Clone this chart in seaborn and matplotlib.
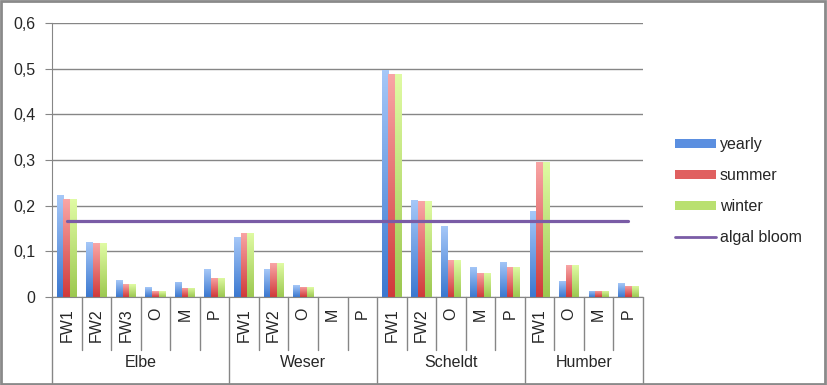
import numpy as np
import pandas as pd
import matplotlib
matplotlib.use("Agg")
import matplotlib.pyplot as plt
import seaborn as sns
from matplotlib.colors import LinearSegmentedColormap
from matplotlib.patches import Patch, Rectangle
from matplotlib.lines import Line2D
from matplotlib.transforms import blended_transform_factory

# Data
rivers = ['Elbe', 'Weser', 'Scheldt', 'Humber']
stations = [['FW1', 'FW2', 'FW3', 'O', 'M', 'P'],
            ['FW1', 'FW2', 'O', 'M', 'P'],
            ['FW1', 'FW2', 'O', 'M', 'P'],
            ['FW1', 'O', 'M', 'P']]
yearly = [0.223, 0.120, 0.037, 0.021, 0.033, 0.061,
          0.131, 0.061, 0.026, np.nan, np.nan,
          0.498, 0.212, 0.155, 0.066, 0.077,
          0.188, 0.036, 0.014, 0.030]
summer = [0.214, 0.118, 0.028, 0.013, 0.020, 0.042,
          0.141, 0.074, 0.022, np.nan, np.nan,
          0.489, 0.210, 0.081, 0.053, 0.066,
          0.296, 0.069, 0.014, 0.025]
winter = [0.214, 0.118, 0.028, 0.013, 0.020, 0.042,
          0.141, 0.074, 0.021, np.nan, np.nan,
          0.489, 0.210, 0.081, 0.053, 0.066,
          0.296, 0.069, 0.014, 0.025]
algal_bloom = 0.167
seasons = ['yearly', 'summer', 'winter']
ytick_vals = [0, 0.1, 0.2, 0.3, 0.4, 0.5, 0.6]
ytick_labels = ['0', '0,1', '0,2', '0,3', '0,4', '0,5', '0,6']

# long table, one row per bar
cats = [f'{r} {s}' for r, sts in zip(rivers, stations) for s in sts]
short = [s for sts in stations for s in sts]
df = pd.DataFrame({
    'cat': cats * 3,
    'season': np.repeat(seasons, len(cats)),
    'value': yearly + summer + winter,
})

sns.set_style('white')
plt.rcParams['font.family'] = ['Liberation Sans', 'DejaVu Sans']
FS = 11.5

fig = plt.figure(figsize=(8.27, 3.85), dpi=100)
ax = fig.add_axes([0.0629, 0.2286, 0.7146, 0.7117])

colors = {'yearly': '#5b8fe0', 'summer': '#e06060', 'winter': '#b9e070'}
grads = {
    'yearly': LinearSegmentedColormap.from_list('b', ['#3b78d0', '#a6c8f8']),
    'summer': LinearSegmentedColormap.from_list('r', ['#d03a3a', '#f9a6a6']),
    'winter': LinearSegmentedColormap.from_list('g', ['#9cc850', '#e0fba4']),
}

sns.barplot(data=df, x='cat', y='value', hue='season', order=cats,
            hue_order=seasons, palette=colors, width=0.68, ax=ax,
            legend=False, errorbar=None, saturation=1)

# gradient fill, clipped to each bar
grad = np.linspace(0, 1, 128).reshape(-1, 1)
for season, bars in zip(seasons, ax.containers):
    for bar in bars:
        h = bar.get_height()
        if not np.isfinite(h) or h <= 0:
            continue
        x0, w = bar.get_x(), bar.get_width()
        im = ax.imshow(grad, extent=[x0, x0 + w, 0, h], origin='lower',
                       cmap=grads[season], aspect='auto', zorder=2)
        im.set_clip_path(bar)
        bar.set_facecolor('none')
        bar.set_edgecolor('none')

# threshold line from first to last category
sns.lineplot(x=np.arange(len(cats)), y=[algal_bloom] * len(cats),
             color='#7a5ca6', lw=2.3, ax=ax, zorder=3)

ax.set_xlim(-0.5, len(cats) - 0.5)
ax.set_ylim(0, 0.6)
ax.set_yticks(ytick_vals)
ax.set_yticklabels(ytick_labels, fontsize=FS)
ax.yaxis.grid(True, color='#868686', lw=1)
ax.set_axisbelow(True)
ax.set_xlabel('')
ax.set_ylabel('')
ax.tick_params(axis='y', left=True, length=5, color='#868686', pad=7)
ax.set_xticks(range(len(cats)))
ax.set_xticklabels(short, rotation=90, fontsize=FS)
ax.tick_params(axis='x', bottom=False, length=0, pad=8)
for side in ['top', 'right']:
    ax.spines[side].set_visible(False)
for side in ['left', 'bottom']:
    ax.spines[side].set_color('#868686')

# multi-level category axis
trans = blended_transform_factory(ax.transData, ax.transAxes)
bounds = np.cumsum([0] + [len(s) for s in stations])
for i in range(len(cats) + 1):
    x = i - 0.5
    low = -0.314 if i in bounds else -0.193
    ax.plot([x, x], [0, low], transform=trans, color='#868686', lw=1,
            clip_on=False)
for r, a, b in zip(rivers, bounds[:-1], bounds[1:]):
    ax.text((a + b - 1) / 2, -0.24, r, transform=trans, ha='center',
            va='center', fontsize=FS)

handles = [Patch(facecolor=colors[s], edgecolor='none') for s in seasons]
handles.append(Line2D([], [], color='#7a5ca6', lw=2))
fig.legend(handles, seasons + ['algal bloom'], loc='center left',
           bbox_to_anchor=(0.816, 0.503), frameon=False, fontsize=FS,
           handlelength=2.55, handleheight=0.45, labelspacing=1.0,
           handletextpad=0.25, borderpad=0, borderaxespad=0)

fig.add_artist(Rectangle((0.001, 0.002), 0.997, 0.995, transform=fig.transFigure,
                         fill=False, edgecolor='#8a8a8a', lw=2))

fig.savefig('out.png', dpi=100)
